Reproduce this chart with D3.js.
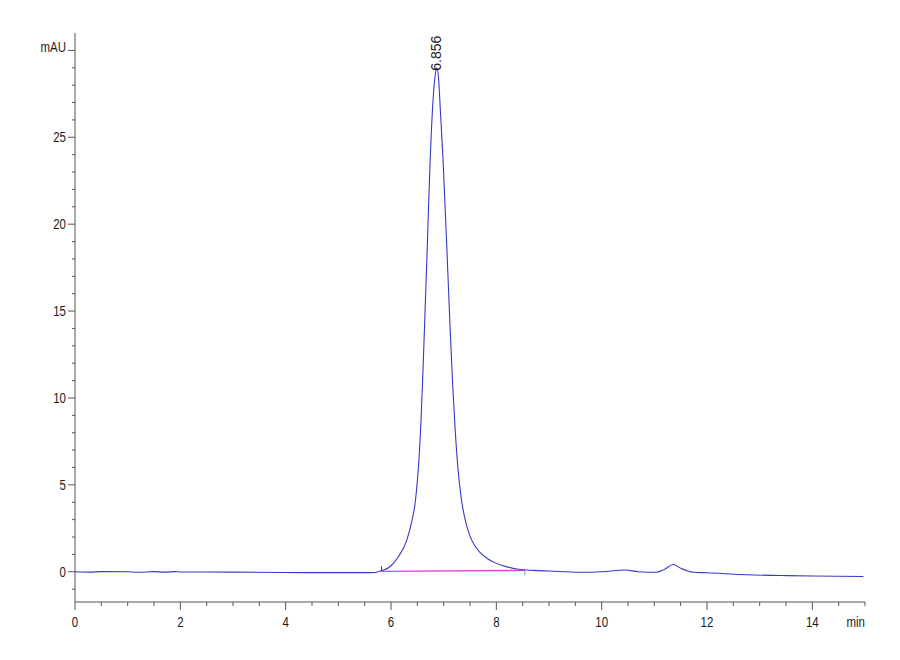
<!DOCTYPE html>
<html>
<head>
<meta charset="utf-8">
<script src="https://cdn.jsdelivr.net/npm/d3@7"></script>
<style>
  html, body { margin: 0; padding: 0; background: #fff; }
  svg { display: block; }
  .tick-lbl { font-family: "Liberation Sans", Arial, sans-serif; font-size: 14px; fill: #1a1a1a; }
  .axis-ln { stroke: #555; stroke-width: 1; }
  .trace { fill: none; stroke: #3838c8; stroke-width: 1.1; }
  .base-ln { stroke: #e040e0; stroke-width: 1.4; }
</style>
</head>
<body>
<svg id="chart" width="900" height="660"></svg>
<script>
// chromatogram trace: retention time (min) and signal (mAU)
const TIMES = [
  0, 0.3, 0.5, 1.0, 1.2, 1.5, 1.7, 1.9, 2.0, 3.0, 4.0, 4.5, 5.0, 5.5, 5.70,
  5.82, 5.98, 6.14, 6.30, 6.40, 6.46, 6.50, 6.54, 6.57, 6.60, 6.64, 6.68, 6.74,
  6.80, 6.84, 6.87, 6.90, 6.94, 6.99, 7.07, 7.12, 7.17, 7.22, 7.27, 7.33,
  7.41, 7.50, 7.60, 7.70, 7.82, 7.96, 8.10, 8.42, 8.70, 9.0, 9.6, 10.0, 10.44,
  10.7, 11.04, 11.2, 11.36, 11.5, 11.74, 12.0, 12.75, 13.5, 14.0, 14.97
];
const SIGNAL = [
  0.0, -0.02, 0.01, 0.0, -0.03, 0.01, -0.02, 0.01, -0.01, -0.02, -0.04, -0.05, -0.05, -0.05, -0.04,
  0.06, 0.29, 0.86, 1.82, 2.97, 4.0, 5.2, 6.9, 8.7, 11.0, 14.4, 17.9, 23.4,
  27.2, 28.6, 29.0, 28.5, 26.4, 23.6, 17.9, 14.2, 10.8, 8.1, 6.0, 4.3,
  2.97, 2.05, 1.45, 1.08, 0.78, 0.54, 0.38, 0.14, 0.08, 0.04, -0.03, 0.0, 0.1,
  0.0, -0.03, 0.15, 0.42, 0.2, -0.03, -0.06, -0.17, -0.22, -0.24, -0.27
];

// integration baseline of the main peak
const BASE_T = [5.82, 8.54];
const BASE_V = [0.02, 0.08];

// peak annotation
const PEAK_T = 6.856;
const PEAK_V = 29.0;
const PEAK_LABEL = '6.856';

// axes
const X_DOMAIN = [0, 15];
const Y_DOMAIN = [-1.74, 31.0];
const X_MAJOR = [0, 2, 4, 6, 8, 10, 12, 14];
const Y_MAJOR = [0, 5, 10, 15, 20, 25];
const X_UNIT = 'min';
const Y_UNIT = 'mAU';
const Y_UNIT_AT = 30;

const svg = d3.select('#chart');
const L = 75, R = 865, T = 33, B = 602;
const NARROW = 0.82; // labels in the original are a condensed face

const x = d3.scaleLinear().domain(X_DOMAIN).range([L, R]);
const y = d3.scaleLinear().domain(Y_DOMAIN).range([B, T]);

const gAxis = svg.append('g');

// minor ticks
const xMinor = d3.range(0, 15.01, 0.5);
const yMinor = d3.range(-1, 30.01, 1);

gAxis.selectAll('.xmin').data(xMinor).enter().append('line')
  .attr('class', 'axis-ln')
  .attr('x1', d => x(d)).attr('x2', d => x(d))
  .attr('y1', B).attr('y2', d => X_MAJOR.includes(d) ? B + 8 : B + 4);

gAxis.selectAll('.ymin').data(yMinor).enter().append('line')
  .attr('class', 'axis-ln')
  .attr('y1', d => y(d)).attr('y2', d => y(d))
  .attr('x1', L).attr('x2', d => (d % 5 === 0) ? L - 7 : L - 3);

// axis lines
gAxis.append('line').attr('class', 'axis-ln')
  .attr('x1', L).attr('x2', R).attr('y1', B).attr('y2', B);
gAxis.append('line').attr('class', 'axis-ln')
  .attr('x1', L).attr('x2', L).attr('y1', T).attr('y2', B);

// condensed text helper
function label(g, tx, ty, anchor, txt) {
  g.append('text')
    .attr('class', 'tick-lbl')
    .attr('transform', `translate(${tx},${ty}) scale(${NARROW},1)`)
    .attr('text-anchor', anchor)
    .text(txt);
}

X_MAJOR.forEach(d => label(gAxis, x(d), 627, 'middle', d));
label(gAxis, R, 627, 'end', X_UNIT);

Y_MAJOR.forEach(d => label(gAxis, 66, y(d) + 5, 'end', d));
label(gAxis, 66, y(Y_UNIT_AT) + 2, 'end', Y_UNIT);

// baseline
svg.append('line').attr('class', 'base-ln')
  .attr('x1', x(BASE_T[0])).attr('y1', y(BASE_V[0]))
  .attr('x2', x(BASE_T[1])).attr('y2', y(BASE_V[1]));
svg.append('line')
  .attr('x1', x(BASE_T[0])).attr('x2', x(BASE_T[0]))
  .attr('y1', y(BASE_V[0]) - 5).attr('y2', y(BASE_V[0]))
  .attr('stroke', '#333').attr('stroke-width', 1);
svg.append('line')
  .attr('x1', x(BASE_T[1])).attr('x2', x(BASE_T[1]))
  .attr('y1', y(BASE_V[1])).attr('y2', y(BASE_V[1]) + 5)
  .attr('stroke', '#999').attr('stroke-width', 1);

// trace
const pts = TIMES.map((t, i) => [t, SIGNAL[i]]);
const line = d3.line()
  .x(d => x(d[0])).y(d => y(d[1]))
  .curve(d3.curveMonotoneX);
svg.append('path').datum(pts).attr('class', 'trace').attr('d', line);

// peak label (rotated)
const px = x(PEAK_T), py = y(PEAK_V) + 3;
svg.append('text')
  .attr('class', 'tick-lbl')
  .attr('transform', `translate(${px + 5},${py}) rotate(-90)`)
  .attr('text-anchor', 'start')
  .style('font-size', '14px')
  .text(PEAK_LABEL);
</script>
</body>
</html>
